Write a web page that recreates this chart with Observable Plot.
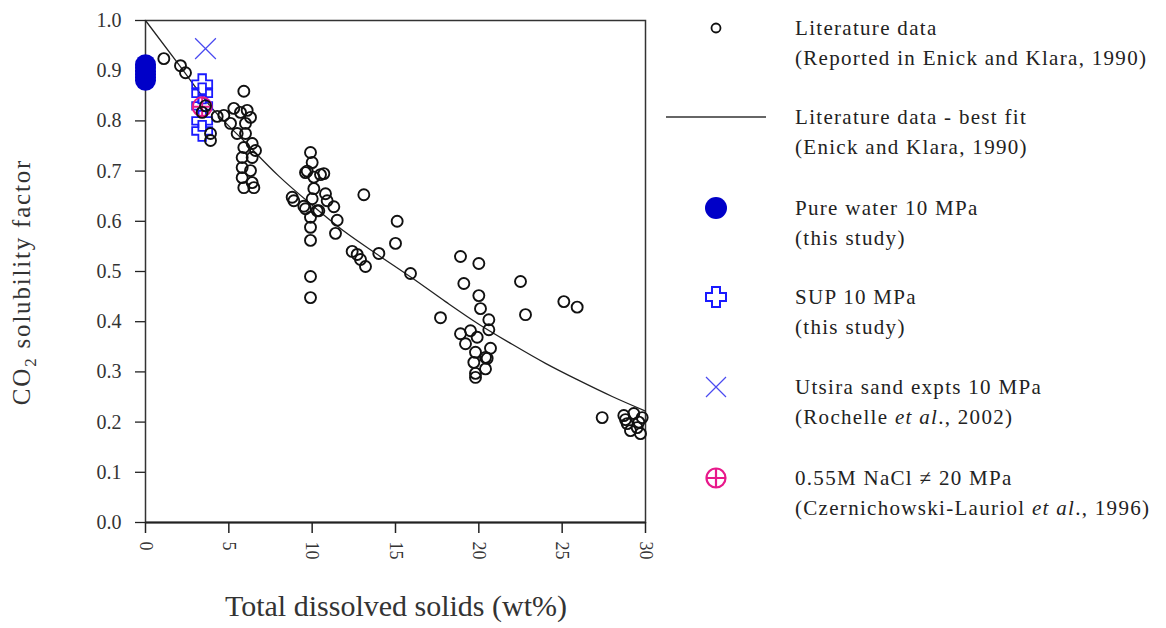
<!DOCTYPE html>
<html>
<head>
<meta charset="utf-8">
<script src="https://cdn.jsdelivr.net/npm/d3@7"></script>
<script src="https://cdn.jsdelivr.net/npm/@observablehq/plot@0.6"></script>
<style>
  body { margin: 0; background: #fff; }
  #wrap { position: relative; width: 1166px; height: 628px; font-family: "Liberation Serif", "DejaVu Serif", serif; color: #111; }
  #chart { position: absolute; left: 0; top: 0; }
  .lbl { position: absolute; white-space: nowrap; }
  .leg-line { position: absolute; left: 795px; font-size: 21px; letter-spacing: 1.3px; line-height: 30px; white-space: nowrap; color: #222; }
  .leg-icon { position: absolute; }
</style>
</head>
<body>
<div id="wrap">
  <div id="chart"></div>
</div>
<script>
// ---- data ----
const xTicks = [0, 5, 10, 15, 20, 25, 30];
const yTicks = [0, 0.1, 0.2, 0.3, 0.4, 0.5, 0.6, 0.7, 0.8, 0.9, 1.0];

// Literature data (Reported in Enick and Klara, 1990)
const litX = [1.1, 2.1, 2.4, 3.4, 3.6, 3.9, 3.9, 4.3, 4.7, 5.1,
  5.3, 5.7, 6.1, 6.3, 5.9, 6.0, 5.5, 6.0, 6.4, 5.9, 6.6, 5.8, 6.4, 5.8, 6.3, 5.8, 6.4, 5.9, 6.5,
  9.9, 10.0, 9.7, 10.5, 10.1, 9.6, 10.7, 10.1, 8.8, 8.9, 9.5, 10.0, 10.8, 10.9, 11.3, 10.3, 9.6, 10.4,
  9.9, 9.9, 9.9, 11.5, 11.4, 9.9, 9.9,
  12.4, 12.7, 12.9, 13.2, 14.0, 13.1, 15.1, 15.0, 15.9,
  17.7, 18.9, 19.1, 20.0, 20.0, 20.1, 20.6, 20.6, 18.9, 19.2, 19.5, 19.9, 20.7, 19.8, 20.4, 19.7, 20.4, 19.8, 20.5, 19.8,
  22.5, 22.8, 25.1, 25.9,
  27.4, 28.7, 29.3, 29.8, 28.9, 29.5, 29.1, 29.7, 28.8, 29.6];
const litY = [0.924, 0.910, 0.896, 0.817, 0.830, 0.775, 0.761, 0.809, 0.811, 0.795,
  0.825, 0.817, 0.821, 0.807, 0.859, 0.795, 0.775, 0.775, 0.755, 0.747, 0.741, 0.727, 0.727, 0.707, 0.701, 0.687, 0.677, 0.667, 0.667,
  0.737, 0.717, 0.700, 0.693, 0.688, 0.697, 0.695, 0.665, 0.648, 0.641, 0.630, 0.645, 0.655, 0.641, 0.629, 0.621, 0.625, 0.621,
  0.608, 0.588, 0.562, 0.602, 0.576, 0.490, 0.448,
  0.540, 0.534, 0.524, 0.510, 0.536, 0.653, 0.600, 0.556, 0.496,
  0.408, 0.530, 0.476, 0.516, 0.452, 0.426, 0.404, 0.384, 0.376, 0.356, 0.382, 0.369, 0.347, 0.339, 0.329, 0.319, 0.306, 0.297, 0.327, 0.289,
  0.480, 0.414, 0.440, 0.429,
  0.209, 0.213, 0.217, 0.209, 0.197, 0.189, 0.183, 0.177, 0.205, 0.200];

// Literature data - best fit (Enick and Klara, 1990)
const fitX = [0, 2, 4, 6, 8, 10, 12, 14, 16, 18, 20, 22, 24, 26, 28, 30];
const fitY = [1.000, 0.912, 0.825, 0.757, 0.690, 0.632, 0.578, 0.532, 0.487, 0.440, 0.395, 0.355, 0.317, 0.283, 0.251, 0.222];

// Pure water 10 MPa (this study)
const pureX = [0, 0, 0, 0, 0, 0];
const pureY = [0.881, 0.887, 0.893, 0.899, 0.906, 0.912];

// SUP 10 MPa (this study)
const supX = [3.4, 3.4, 3.4, 3.4, 3.4];
const supY = [0.780, 0.800, 0.830, 0.855, 0.873];

// Utsira sand expts 10 MPa (Rochelle et al., 2002)
const utsX = [3.6];
const utsY = [0.944];

// 0.55M NaCl ≠ 20 MPa (Czernichowski-Lauriol et al., 1996)
const naclX = [3.4];
const naclY = [0.828];

const legendEntries = [
  ["Literature data", "(Reported in Enick and Klara, 1990)"],
  ["Literature data - best fit", "(Enick and Klara, 1990)"],
  ["Pure water 10 MPa", "(this study)"],
  ["SUP 10 MPa", "(this study)"],
  ["Utsira sand expts 10 MPa", "(Rochelle <i>et al</i>., 2002)"],
  ["0.55M NaCl \u2260 20 MPa", "(Czernichowski-Lauriol <i>et al</i>., 1996)"]
];

// ---- build ----
const zip = (xs, ys) => xs.map((x, i) => ({x, y: ys[i]}));
const lit = zip(litX, litY);
const fit = zip(fitX, fitY);
const pure = zip(pureX, pureY);
const sup = zip(supX, supY);
const uts = zip(utsX, utsY);
const nacl = zip(naclX, naclY);

const crossOutline = {
  draw(ctx, size) {
    const r = Math.sqrt(size / Math.PI), a = r * 0.38;
    ctx.moveTo(-a, -r); ctx.lineTo(a, -r); ctx.lineTo(a, -a); ctx.lineTo(r, -a);
    ctx.lineTo(r, a); ctx.lineTo(a, a); ctx.lineTo(a, r); ctx.lineTo(-a, r);
    ctx.lineTo(-a, a); ctx.lineTo(-r, a); ctx.lineTo(-r, -a); ctx.lineTo(-a, -a);
    ctx.closePath();
  }
};
const circlePlus = {
  draw(ctx, size) {
    const r = Math.sqrt(size / Math.PI);
    ctx.moveTo(r, 0); ctx.arc(0, 0, r, 0, 2 * Math.PI);
    ctx.moveTo(-r, 0); ctx.lineTo(r, 0);
    ctx.moveTo(0, -r); ctx.lineTo(0, r);
  }
};

const chart = Plot.plot({
  width: 660,
  height: 628,
  marginLeft: 145,
  marginRight: 15,
  marginTop: 20,
  marginBottom: 106,
  style: {fontFamily: "Liberation Serif, DejaVu Serif, serif", background: "transparent", overflow: "visible"},
  x: {domain: [0, 30]},
  y: {domain: [0, 1]},
  marks: [
    Plot.frame({stroke: "#333", strokeWidth: 1.5}),
    Plot.axisY({ticks: yTicks, tickFormat: d3.format(".1f"), tickSize: 10, tickPadding: 14, fontSize: 20, letterSpacing: 2, label: null, stroke: "#222", strokeWidth: 1.3, fill: "#333"}),
    Plot.axisX({ticks: xTicks, tickFormat: d3.format("d"), tickRotate: 90, tickSize: 11, tickPadding: 8, fontSize: 18, label: null, stroke: "#222", strokeWidth: 1.5, fill: "#333"}),
    Plot.ruleY([0], {stroke: "#222", strokeWidth: 2}),
    Plot.line(fit, {x: "x", y: "y", stroke: "#222", strokeWidth: 1.3, curve: "monotone-x"}),
    Plot.dot(pure, {x: "x", y: "y", r: 10.5, fill: "#0000c8", stroke: "none"}),
    Plot.dot(sup, {x: "x", y: "y", r: 10, symbol: crossOutline, stroke: "#1a1aff", strokeWidth: 1.8, fill: "none"}),
    Plot.dot(nacl, {x: "x", y: "y", r: 9.5, symbol: circlePlus, stroke: "#e8198b", strokeWidth: 2, fill: "none"}),
    Plot.dot(uts, {x: "x", y: "y", r: 9.5, symbol: "times", stroke: "#4a4af0", strokeWidth: 1.2}),
    Plot.dot(lit, {x: "x", y: "y", r: 5.5, stroke: "#111", strokeWidth: 1.9, fill: "none"})
  ]
});
document.getElementById("chart").appendChild(chart);

const wrap = document.getElementById("wrap");

// axis titles
const yl = document.createElement("div");
yl.className = "lbl";
yl.innerHTML = "CO<sub style='font-size:17px'>2</sub> solubility factor";
yl.style.cssText = "position:absolute;white-space:nowrap;font-size:25px;letter-spacing:1.8px;color:#333;left:24px;top:282px;transform:translate(-50%,-50%) rotate(-90deg);";
wrap.appendChild(yl);

const xl = document.createElement("div");
xl.className = "lbl";
xl.textContent = "Total dissolved solids (wt%)";
xl.style.cssText = "position:absolute;white-space:nowrap;font-size:30px;color:#333;left:396px;top:606px;transform:translate(-50%,-50%);";
wrap.appendChild(xl);

// legend
const entryTop = [28, 117, 208, 297, 387, 478];
const iconSvgs = [
  `<svg width="20" height="20" viewBox="-10 -10 20 20"><circle r="4.5" fill="none" stroke="#111" stroke-width="1.8"/></svg>`,
  `<svg width="100" height="6" viewBox="0 -3 100 6"><line x1="0" x2="100" y1="0" y2="0" stroke="#333" stroke-width="1.3"/></svg>`,
  `<svg width="26" height="26" viewBox="-13 -13 26 26"><circle r="11" fill="#0000c8"/></svg>`,
  `<svg width="26" height="26" viewBox="-13 -13 26 26"><path d="M-4,-10H4V-4H10V4H4V10H-4V4H-10V-4H-4Z" fill="#fff" stroke="#1a1aff" stroke-width="2"/></svg>`,
  `<svg width="26" height="26" viewBox="-13 -13 26 26"><path d="M-10,-10L10,10M-10,10L10,-10" stroke="#4a4af0" stroke-width="1.2"/></svg>`,
  `<svg width="26" height="26" viewBox="-13 -13 26 26"><circle r="9.5" fill="none" stroke="#e8198b" stroke-width="2.2"/><path d="M-9.5,0H9.5M0,-9.5V9.5" stroke="#e8198b" stroke-width="2.2"/></svg>`
];
legendEntries.forEach((lines, i) => {
  const cy = entryTop[i];
  lines.forEach((t, j) => {
    const d = document.createElement("div");
    d.className = "leg-line";
    d.innerHTML = t;
    d.style.top = (cy + j * 30 - 15) + "px";
    wrap.appendChild(d);
  });
  const ic = document.createElement("div");
  ic.className = "leg-icon";
  ic.innerHTML = iconSvgs[i];
  const svg = ic.firstChild;
  const w = +svg.getAttribute("width"), h = +svg.getAttribute("height");
  ic.style.left = (716 - w / 2) + "px";
  ic.style.top = (cy - h / 2) + "px";
  ic.style.lineHeight = "0";
  wrap.appendChild(ic);
});
</script>
</body>
</html>
